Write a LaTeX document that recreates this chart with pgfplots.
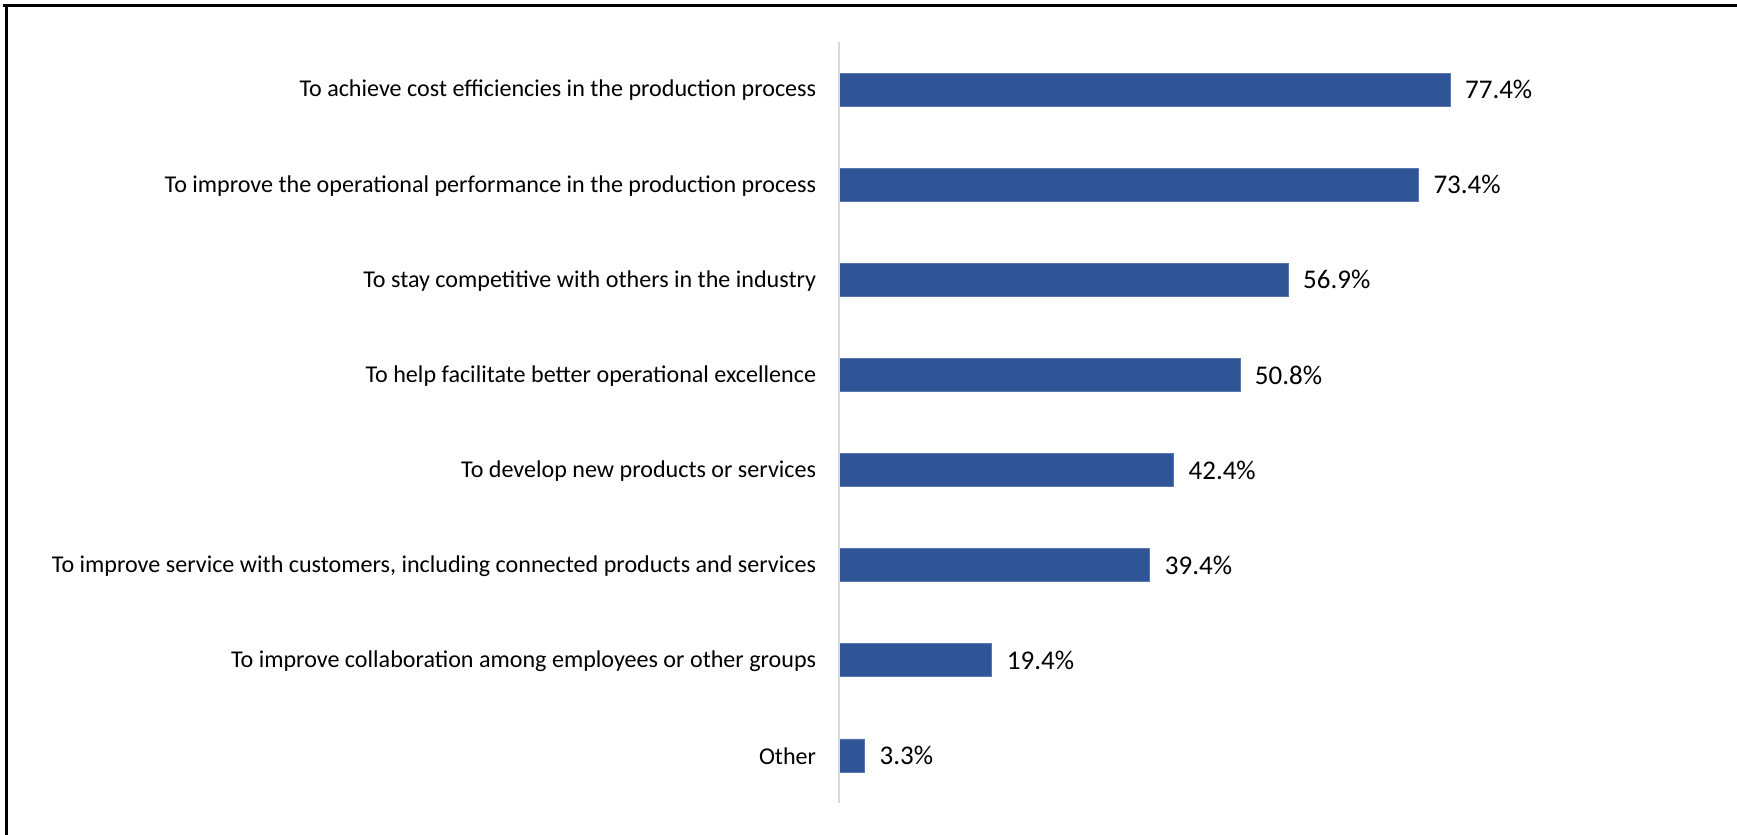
\documentclass[border=0pt]{standalone}
\usepackage{pgfplots}
\pgfplotsset{compat=1.18}
\usepackage{fontspec}
\setmainfont{Carlito}
\definecolor{barblue}{HTML}{2F5597}
\definecolor{axgray}{HTML}{D9D9D9}
\begin{document}
\begin{tikzpicture}
\path[use as bounding box] (0,0) rectangle (868.5pt,-417.5pt);
\draw[line width=1.5pt] (1.5pt,-2.5pt) -- (868.5pt,-2.5pt);
\draw[line width=1.6pt] (3.4pt,-2.5pt) -- (3.4pt,-417.5pt);
\begin{axis}[
  at={(419.3pt,-401.5pt)}, anchor=south west,
  scale only axis, width=395pt, height=380.5pt,
  xbar, bar width=16.5pt, bar shift=0pt,
  xmin=0, xmax=100, ymin=-0.5, ymax=7.5,
  axis line style={draw=none},
  hide x axis,
  ytick={0,...,7},
  yticklabels={Other,
    To improve collaboration among employees or other groups,
    {To improve service with customers, including connected products and services},
    To develop new products or services,
    To help facilitate better operational excellence,
    To stay competitive with others in the industry,
    To improve the operational performance in the production process,
    To achieve cost efficiencies in the production process},
  yticklabel style={font=\fontsize{12.05}{14}\selectfont, xshift=-7.7pt, yshift=-0.5pt},
  major tick length=0pt,
  nodes near coords={\pgfmathprintnumber[fixed,precision=1,fixed zerofill]{\pgfplotspointmeta}\%},
  nodes near coords style={font=\fontsize{13.5}{15}\selectfont, anchor=west, xshift=4pt},
  /pgf/number format/assume math mode=true,
  clip=false,
]
\addplot[fill=barblue, draw=barblue!80!white, line width=0.4pt] coordinates {
  (3.3,0) (19.4,1) (39.4,2) (42.4,3) (50.8,4) (56.9,5) (73.4,6) (77.4,7)
};
\draw[axgray, line width=1pt] (axis cs:0,-0.5) -- (axis cs:0,7.5);
\end{axis}
\end{tikzpicture}
\end{document}
